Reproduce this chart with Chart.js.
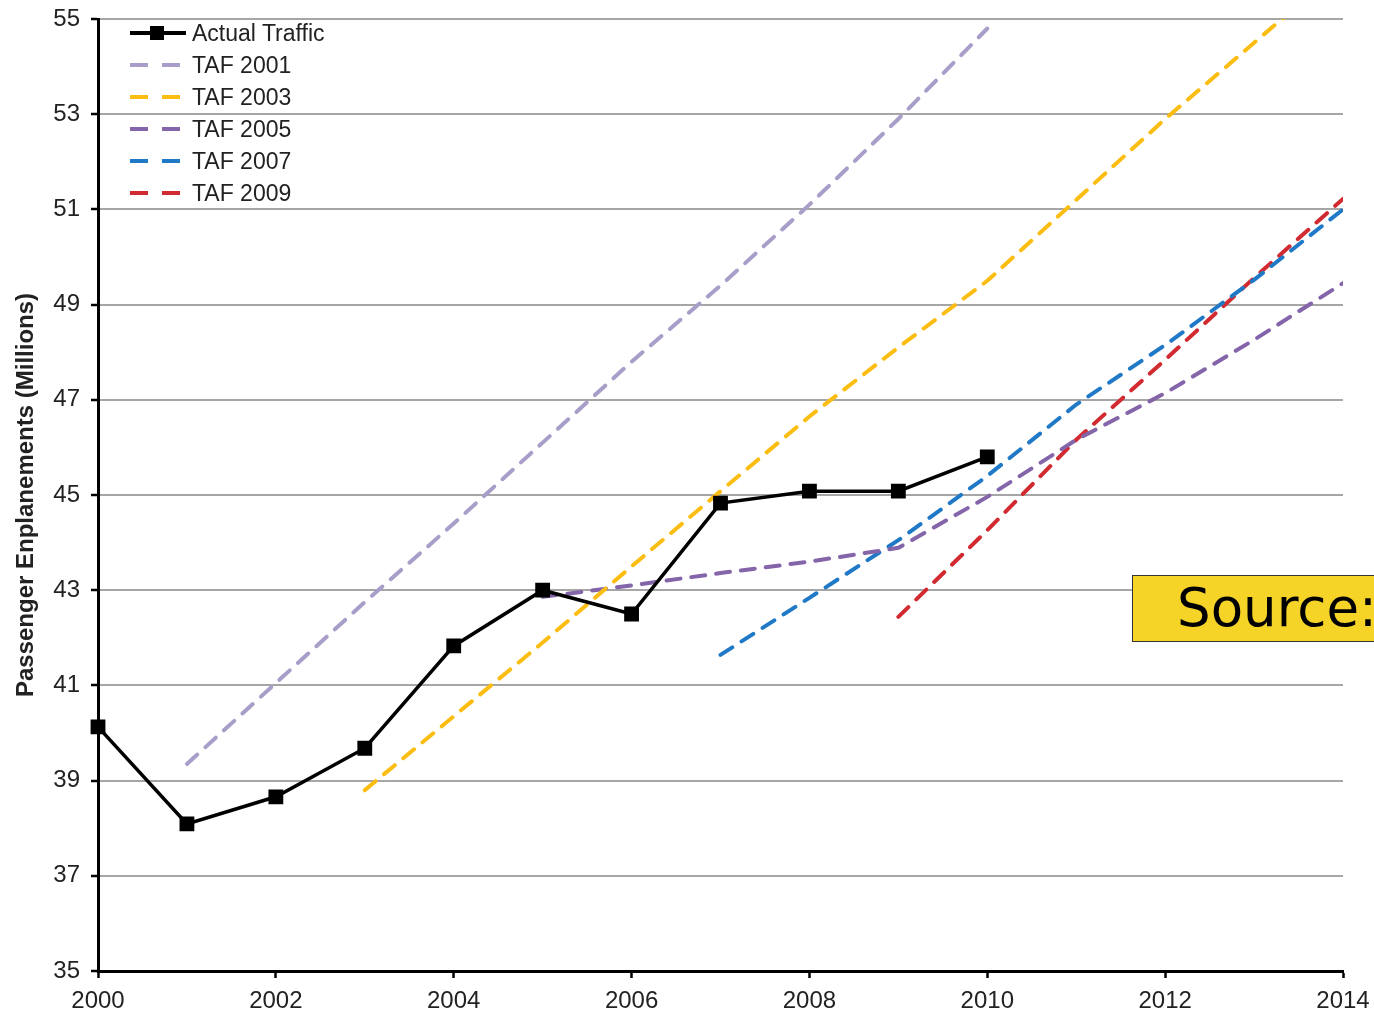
<!DOCTYPE html>
<html>
<head>
  <title>Passenger Enplanements</title>
  <script src="https://cdn.jsdelivr.net/npm/chart.js"></script>
  <style>
    body { margin: 0; background: #fff; overflow: hidden; font-family: "Liberation Sans", Arial, sans-serif; }
    #wrap { position: relative; width: 1374px; height: 1015px; }
    .legend { position: absolute; left: 130px; top: 17px; font-size: 23px; color: #222; }
    .legend div { height: 32px; display: flex; align-items: center; }
    .legend span.sw { display: inline-block; width: 56px; height: 4px; margin-right: 6px; position: relative; }
    .source { position: absolute; left: 1132px; top: 575px; width: 300px; height: 67px;
      background: #f5d327; border: 1.5px solid #333; font-family: "DejaVu Sans", sans-serif;
      font-size: 53px; line-height: 64px; padding-left: 44px; box-sizing: border-box; color: #000; }
  </style>
</head>
<body>
<div id="wrap">
  <canvas id="chart" width="1374" height="1015"></canvas>
  <div class="legend" id="legend"></div>
  <div class="source">Source:</div>
</div>
<script>
  // values (millions of enplanements)
  const actualYears = [2000, 2001, 2002, 2003, 2004, 2005, 2006, 2007, 2008, 2009, 2010];
  const actualTraffic = [40.13, 38.09, 38.66, 39.68, 41.83, 43.0, 42.5, 44.83, 45.08, 45.08, 45.8];

  const taf2001Years = [2001, 2002, 2003, 2004, 2005, 2006, 2007, 2008, 2009, 2010];
  const taf2001 = [39.35, 41.05, 42.75, 44.4, 46.1, 47.8, 49.4, 51.1, 52.9, 54.8];

  const taf2003Years = [2003, 2004, 2005, 2006, 2007, 2008, 2009, 2010, 2011, 2012, 2013, 2014];
  const taf2003 = [38.8, 40.35, 41.9, 43.5, 45.08, 46.65, 48.1, 49.5, 51.2, 52.9, 54.5, 56.1];

  const taf2005Years = [2005, 2006, 2007, 2008, 2009, 2010, 2011, 2012, 2013, 2014];
  const taf2005 = [42.86, 43.1, 43.36, 43.6, 43.89, 44.96, 46.16, 47.14, 48.26, 49.45];

  const taf2007Years = [2007, 2008, 2009, 2010, 2011, 2012, 2013, 2014];
  const taf2007 = [41.64, 42.84, 44.05, 45.4, 46.9, 48.15, 49.52, 51.0];

  const taf2009Years = [2009, 2010, 2011, 2012, 2013, 2014];
  const taf2009 = [42.44, 44.26, 46.16, 47.84, 49.56, 51.22];

  const yTicks = [35, 37, 39, 41, 43, 45, 47, 49, 51, 53, 55];
  const xTicks = [2000, 2002, 2004, 2006, 2008, 2010, 2012, 2014];

  function pts(xs, ys) {
    return xs.map((x, i) => ({ x: x, y: ys[i] }));
  }

  function dashed(label, xs, ys, color) {
    return {
      label: label,
      data: pts(xs, ys),
      borderColor: color,
      borderWidth: 4,
      borderDash: [14, 11],
      borderCapStyle: 'round',
      pointRadius: 0,
      fill: false,
      tension: 0
    };
  }

  const datasets = [
    {
      label: 'Actual Traffic',
      data: pts(actualYears, actualTraffic),
      borderColor: '#000',
      backgroundColor: '#000',
      borderWidth: 3.5,
      pointStyle: 'rect',
      pointRadius: 8,
      pointHoverRadius: 8,
      fill: false,
      tension: 0,
      clip: false,
      order: 0
    },
    dashed('TAF 2001', taf2001Years, taf2001, '#a99dc9'),
    dashed('TAF 2003', taf2003Years, taf2003, '#fcbd12'),
    dashed('TAF 2005', taf2005Years, taf2005, '#8465aa'),
    dashed('TAF 2007', taf2007Years, taf2007, '#2079c7'),
    dashed('TAF 2009', taf2009Years, taf2009, '#d12a30')
  ];

  const tickFont = { family: '"Liberation Sans", Arial, sans-serif', size: 24 };

  new Chart(document.getElementById('chart'), {
    type: 'line',
    data: { datasets: datasets },
    options: {
      responsive: false,
      animation: false,
      layout: { padding: { top: 19, right: 31, left: 0, bottom: 0 } },
      plugins: { legend: { display: false }, tooltip: { enabled: false } },
      scales: {
        x: {
          type: 'linear',
          min: 2000,
          max: 2014,
          afterBuildTicks: s => { s.ticks = xTicks.map(v => ({ value: v })); },
          afterFit: s => { s.height = 44; s.paddingLeft = 0; s.paddingRight = 0; },
          ticks: { color: '#222', font: tickFont, padding: 9, callback: v => String(v) },
          grid: { drawOnChartArea: false, tickLength: 7, tickColor: '#000', tickWidth: 2.5 },
          border: { color: '#000', width: 3 }
        },
        y: {
          min: 35,
          max: 55,
          afterBuildTicks: s => { s.ticks = yTicks.map(v => ({ value: v })); },
          afterFit: s => { s.width = 98; s.paddingTop = 0; s.paddingBottom = 0; },
          ticks: { color: '#222', font: tickFont, padding: 11 },
          grid: { color: '#a6a6a6', lineWidth: 2, tickLength: 7, tickColor: '#000', tickWidth: 2.5 },
          border: { color: '#000', width: 3 },
          title: {
            display: true,
            text: 'Passenger Enplanements (Millions)',
            color: '#222',
            font: { family: '"Liberation Sans", Arial, sans-serif', size: 24, weight: 'bold' },
            padding: { top: 12, bottom: 0 }
          }
        }
      }
    }
  });

  // legend drawn as html so it can sit inside the plot at top-left
  const legendEl = document.getElementById('legend');
  datasets.forEach((ds, i) => {
    const row = document.createElement('div');
    const sw = document.createElement('span');
    sw.className = 'sw';
    if (i === 0) {
      sw.style.background = '#000';
      sw.innerHTML = '<span style="position:absolute;left:20px;top:-5px;width:14px;height:14px;background:#000"></span>';
    } else {
      sw.style.background = `linear-gradient(to right, ${ds.borderColor} 0 18px, transparent 18px 32px, ${ds.borderColor} 32px 50px, transparent 50px)`;
    }
    row.appendChild(sw);
    row.appendChild(document.createTextNode(ds.label));
    legendEl.appendChild(row);
  });
</script>
</body>
</html>
